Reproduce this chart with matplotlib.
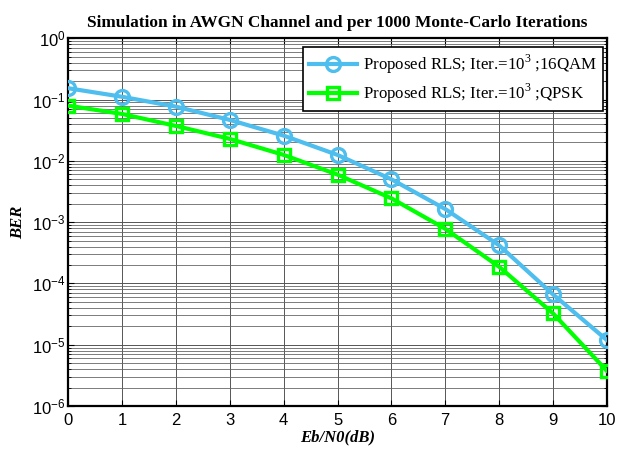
import matplotlib
matplotlib.use("Agg")
import matplotlib.pyplot as plt
from matplotlib.ticker import LogLocator, NullFormatter, FixedLocator, LogFormatterSciNotation

ebn0 = [0, 1, 2, 3, 4, 5, 6, 7, 8, 9, 10]
ber_16qam = [0.153, 0.111, 0.0766, 0.0465, 0.0258, 0.0125, 0.00501, 0.00164, 4.2e-4, 6.67e-5, 1.2e-5]
ber_qpsk = [0.0795, 0.0582, 0.0371, 0.0228, 0.0125, 0.00596, 0.00245, 7.8e-4, 1.88e-4, 3.27e-5, 3.78e-6]
yticks = [1e-6, 1e-5, 1e-4, 1e-3, 1e-2, 1e-1, 1e0]
label_16qam = "Proposed RLS; Iter.=10$^3$ ;16QAM"
label_qpsk = "Proposed RLS; Iter.=10$^3$ ;QPSK"
title = "Simulation in AWGN Channel and per 1000 Monte-Carlo Iterations"
xlabel = "Eb/N0(dB)"
ylabel = "BER"

plt.rcParams['mathtext.fontset'] = 'custom'
plt.rcParams['mathtext.rm'] = 'Liberation Serif'

fig = plt.figure(figsize=(6.22, 4.5), dpi=100)
ax = fig.add_axes([0.110, 0.0978, 0.8653, 0.8171])

ax.plot(ebn0, ber_16qam, color='#4DBEEE', lw=3, marker='o', ms=10,
        mfc='none', mec='#4DBEEE', mew=2.4, label=label_16qam, zorder=3)
ax.plot(ebn0, ber_qpsk, color='#00FF00', lw=3, marker='s', ms=8,
        mfc='none', mec='#00FF00', mew=2.4, label=label_qpsk, zorder=3)

ax.set_yscale('log')
ax.set_xlim(0, 10)
ax.set_ylim(1e-6, 1)
ax.xaxis.set_major_locator(FixedLocator(ebn0))
ax.yaxis.set_major_locator(FixedLocator(yticks))
ax.yaxis.set_major_formatter(LogFormatterSciNotation())
ax.yaxis.set_minor_locator(LogLocator(base=10, subs=range(2, 10), numticks=20))
ax.yaxis.set_minor_formatter(NullFormatter())

ax.grid(True, which='major', color='#555555', lw=0.7)
ax.grid(True, which='minor', axis='y', color='#666666', lw=0.6)

ax.tick_params(which='both', direction='in', top=True, right=True, labelsize=12)
ax.tick_params(which='major', length=4, width=0.8)
ax.tick_params(which='minor', length=2.5, width=0.6)
ax.tick_params(axis='y', which='major', pad=2)
ax.tick_params(axis='x', which='major', pad=5)
for lab in ax.get_xticklabels() + ax.get_yticklabels():
    lab.set_fontfamily('Liberation Sans')
for s in ax.spines.values():
    s.set_linewidth(1.6)
    s.set_color('black')

ax.set_title(title, fontfamily='Liberation Serif', fontweight='bold', fontsize=12.4, pad=8)
ax.set_xlabel(xlabel, fontfamily='Liberation Serif', fontweight='bold', fontstyle='italic', fontsize=12, labelpad=1)
ax.set_ylabel(ylabel, fontfamily='Liberation Serif', fontweight='bold', fontstyle='italic', fontsize=12, labelpad=4)

leg = ax.legend(loc='upper right', bbox_to_anchor=(0.994, 0.977), prop={'family': 'Liberation Serif', 'size': 12.2},
                fancybox=False, framealpha=1, edgecolor='black', handlelength=2.8, borderpad=0.35,
                labelspacing=0.35, handletextpad=0.4, borderaxespad=0)
leg.get_frame().set_linewidth(1.2)

fig.savefig('out.png', dpi=100)
